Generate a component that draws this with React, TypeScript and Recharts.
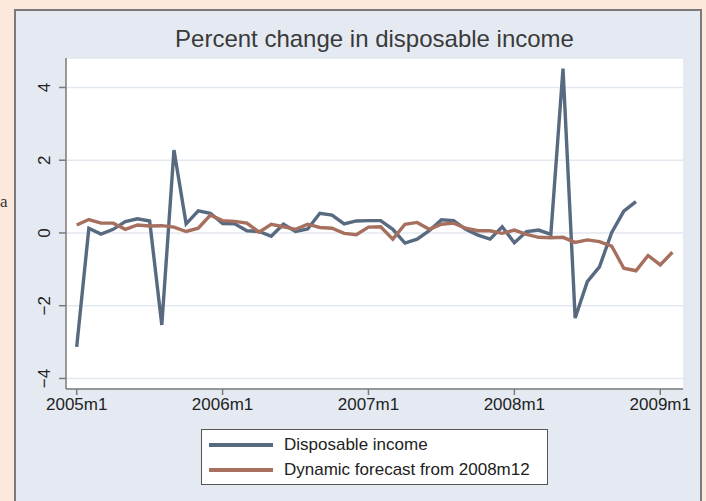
import React from 'react';
import { LineChart, Line, XAxis, YAxis, CartesianGrid } from 'recharts';

const monthIndex: number[] = Array.from({ length: 50 }, (_, k) => k);
const tickMonths: number[] = [0, 12, 24, 36, 48];
const tickLabels: string[] = ['2005m1', '2006m1', '2007m1', '2008m1', '2009m1'];
const yTicks: number[] = [-4, -2, 0, 2, 4];

const disposableIncome: number[] = [
  -3.13, 0.13, -0.03, 0.1, 0.31, 0.39, 0.33, -2.53, 2.28, 0.25, 0.61, 0.54,
  0.26, 0.25, 0.06, 0.04, -0.09, 0.24, 0.04, 0.11, 0.54, 0.49, 0.25, 0.33,
  0.34, 0.34, 0.1, -0.28, -0.17, 0.06, 0.36, 0.34, 0.1, -0.06, -0.17, 0.17,
  -0.27, 0.04, 0.08, -0.04, 4.52, -2.34, -1.34, -0.93, 0.01, 0.6, 0.86,
];

const dynamicForecast: number[] = [
  0.22, 0.37, 0.27, 0.27, 0.1, 0.22, 0.19, 0.2, 0.16, 0.04, 0.13, 0.49,
  0.34, 0.32, 0.27, 0.02, 0.24, 0.17, 0.1, 0.24, 0.15, 0.13, -0.01, -0.05,
  0.16, 0.17, -0.17, 0.24, 0.29, 0.1, 0.24, 0.27, 0.13, 0.06, 0.06, -0.01,
  0.08, -0.04, -0.12, -0.13, -0.12, -0.26, -0.19, -0.24, -0.36, -0.97, -1.04,
  -0.62, -0.88, -0.53,
];

const seriesNames: string[] = ['Disposable income', 'Dynamic forecast from 2008m12'];
const seriesColors: string[] = ['#576a80', '#a66f5e'];

const data = monthIndex.map((i) => ({
  i,
  income: i < disposableIncome.length ? disposableIncome[i] : null,
  forecast: dynamicForecast[i],
}));

const FONT = '"Liberation Sans", Arial, Helvetica, sans-serif';

const YTick = (props: any) => {
  const { y, payload } = props;
  const label = payload.value < 0 ? '\u2212' + Math.abs(payload.value) : String(payload.value);
  return (
    <text
      x={45}
      y={y}
      transform={`rotate(-90, 45, ${y})`}
      textAnchor="middle"
      dominantBaseline="central"
      fontSize={17}
      fill="#222"
      fontFamily={FONT}
    >
      {label}
    </text>
  );
};

export default function App() {
  return (
    <div style={{ position: 'absolute', left: 0, top: 0, width: 706, height: 501, background: '#fde8dd', overflow: 'hidden' }}>
      <span style={{ position: 'absolute', left: 0, top: 192, fontSize: 17, color: '#333', fontFamily: '"Liberation Serif", serif' }}>a</span>
      <div
        style={{
          position: 'absolute',
          left: 14,
          top: 9,
          width: 684,
          height: 520,
          background: '#e5eaf2',
          borderLeft: '2px solid #7a7a7a',
          borderTop: '2px solid #7a7a7a',
          borderRight: '2px solid #7a7a7a',
        }}
      />
      <div
        style={{
          position: 'absolute',
          left: 66,
          width: 617,
          top: 25,
          textAlign: 'center',
          fontFamily: FONT,
          fontSize: 24,
          color: '#3a3a3a',
        }}
      >
        Percent change in disposable income
      </div>
      <div style={{ position: 'absolute', left: 0, top: 0 }}>
        <LineChart width={706} height={501} data={data} margin={{ top: 58, right: 23, left: 16, bottom: 82 }}>
          <CartesianGrid horizontal vertical={false} stroke="#e3e9f1" strokeWidth={1.6} fill="#ffffff" />
          <XAxis
            dataKey="i"
            type="number"
            domain={[-0.88, 49.87]}
            allowDataOverflow
            ticks={tickMonths}
            tickFormatter={(v: number) => tickLabels[tickMonths.indexOf(v)] ?? ''}
            height={30}
            tickSize={6}
            tickMargin={3}
            stroke="#7a7a7a"
            strokeWidth={1.5}
            tick={{ fontSize: 17, fill: '#222', fontFamily: FONT }}
          />
          <YAxis
            type="number"
            domain={[-4.29, 4.81]}
            allowDataOverflow
            ticks={yTicks}
            width={50}
            tickSize={7}
            stroke="#7a7a7a"
            strokeWidth={1.5}
            tick={<YTick />}
          />
          <Line
            type="linear"
            dataKey="income"
            name={seriesNames[0]}
            stroke={seriesColors[0]}
            strokeWidth={3.4}
            dot={false}
            isAnimationActive={false}
            connectNulls={false}
          />
          <Line
            type="linear"
            dataKey="forecast"
            name={seriesNames[1]}
            stroke={seriesColors[1]}
            strokeWidth={3.4}
            dot={false}
            isAnimationActive={false}
          />
        </LineChart>
      </div>
      <div
        style={{
          position: 'absolute',
          left: 201,
          top: 429,
          width: 345,
          height: 54,
          border: '1px solid #555',
          background: '#fff',
          fontFamily: FONT,
          fontSize: 17,
          color: '#222',
        }}
      >
        {seriesNames.map((n, k) => (
          <div key={n} style={{ display: 'flex', alignItems: 'center', height: 25, marginTop: k === 0 ? 2 : 0 }}>
            <div style={{ width: 64, height: 4, background: seriesColors[k], marginLeft: 7, marginRight: 11 }} />
            <span>{n}</span>
          </div>
        ))}
      </div>
    </div>
  );
}
